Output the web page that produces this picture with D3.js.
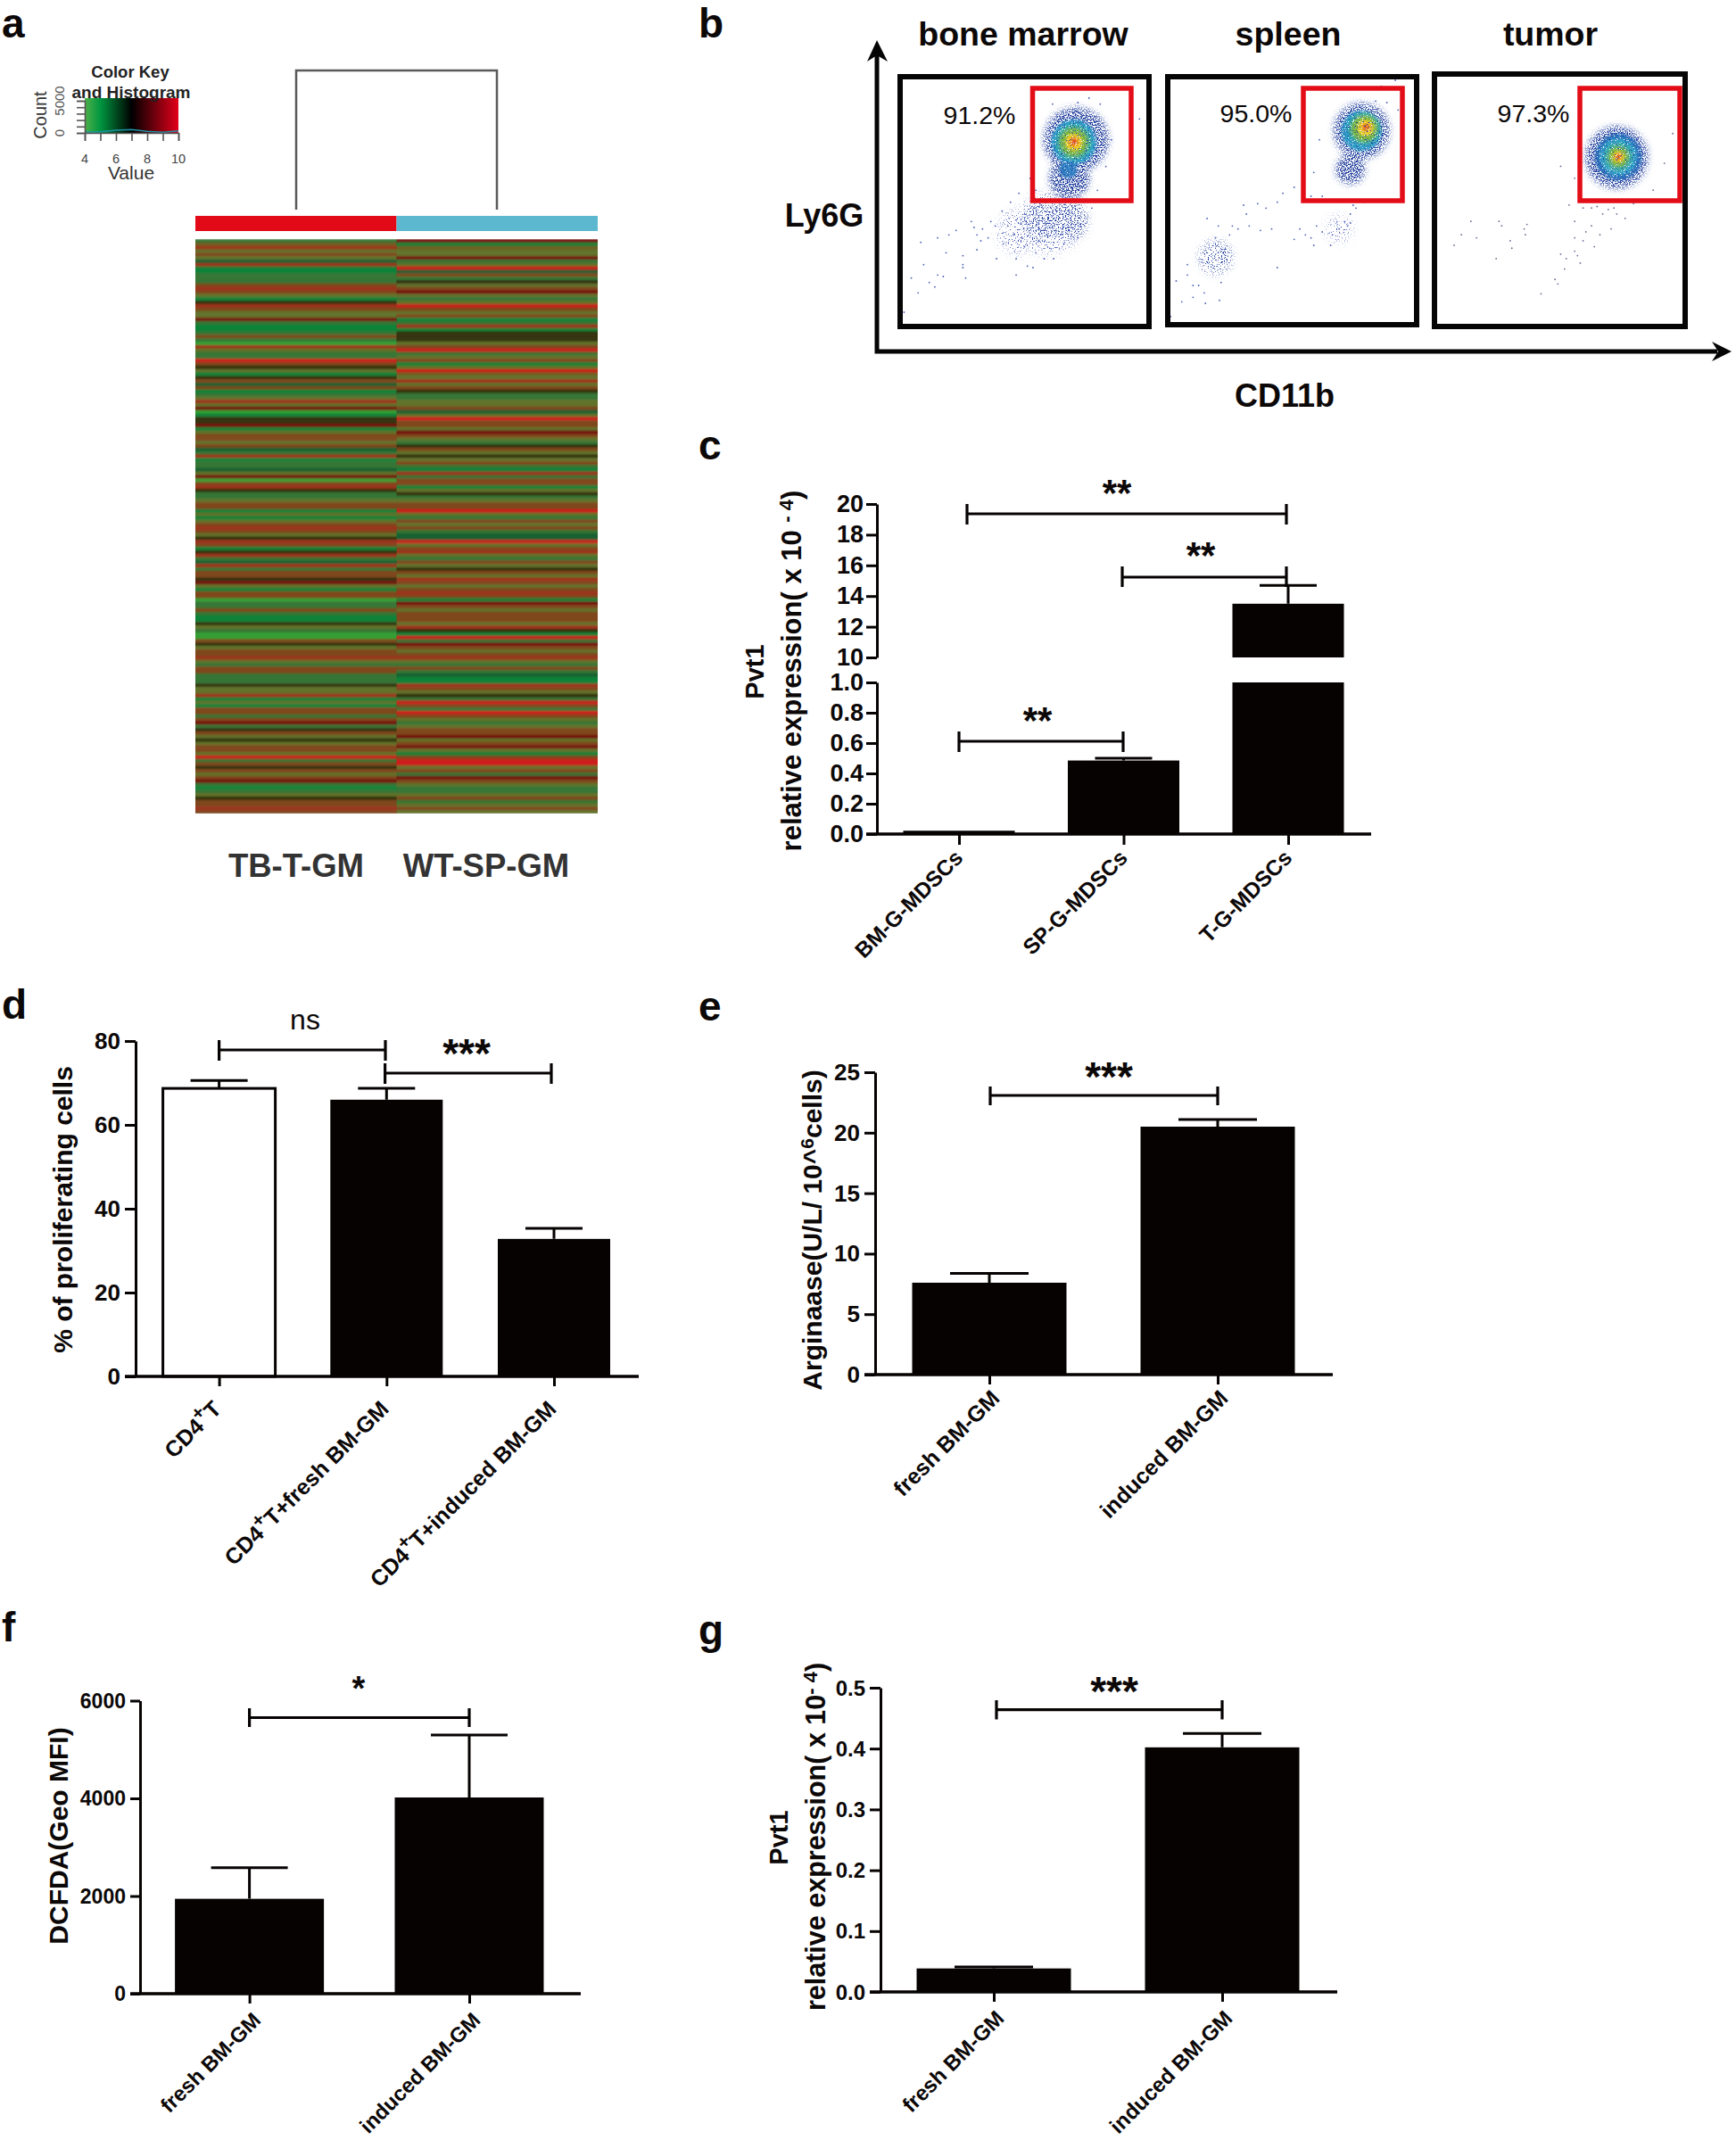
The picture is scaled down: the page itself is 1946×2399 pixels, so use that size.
<!DOCTYPE html>
<html><head><meta charset="utf-8">
<script src="https://cdn.jsdelivr.net/npm/d3@7/dist/d3.min.js"></script>
<style>
html,body{margin:0;padding:0;background:#fff}
svg{display:block}
text{font-family:"Liberation Sans",Arial,sans-serif;fill:#0c0808}
.b{font-weight:bold}
</style></head><body><svg id="fig" width="1946" height="2399" viewBox="0 0 1946 2399"></svg>
<script>
// ---------- panel a data ----------
const heatLeftA=[3,5,7,4,6,4,2,7,1,1,3,3,3,6,7,6,4,1,10,7,6,4,4,9,3,1,1,3,6,3,0,7,4,3,3,8,6,10,4,1,10,6];
const heatLeftB=[2,6,1,3,4,7,4,9,0,1,10,10,9,1,4,6,6,4,6,2,3,7,1,3,3,2,4,9,0,6,7,10,3,3,4,6,6,1,4,1,4,6];
const heatLeftC=[7,6,4,10,7,6,1,10,7,3,2,7,3,6,6,10,9,4,1,6,6,0,3,3,6,3,1,1,10,4,3,0,0,6,10,4,6,6,7,4,3,6];
const heatLeftD=[6,3,3,3,10,4,4,7,1,4,1,6,6,3,6,9,3,10,6,4,10,4,6,6,4,8,3,6,10,6,4,6,9,3,1,3,4,10,6,6,7,6];
const heatRightA=[9,1,5,4,4,9,3,4,8,2,6,3,10,4,6,9,4,3,4,8,6,4,6,1,3,7,1,10,10,10,4,6,8,3,4,6,1,4,8,5,4,7];
const heatRightB=[4,6,10,3,3,4,4,6,2,4,8,6,6,4,9,6,4,3,10,6,4,10,4,6,3,1,7,3,6,6,1,4,10,3,4,6,6,8,4,3,6,4];
const heatRightC=[6,3,2,2,8,4,6,7,4,3,6,4,10,6,4,7,6,4,6,7,6,1,9,6,4,6,6,6,4,7,10,1,8,3,9,6,4,6,7,4,3,6];
const heatRightD=[3,2,1,1,7,6,4,10,3,8,6,3,8,6,4,3,4,6,6,9,4,6,9,4,1,6,8,8,4,6,3,9,6,4,3,3,4,6,3,4,6,4];
const heatPalette=["#35a035","#0f8238","#166030","#367434","#62722a","#6f5e22","#7f461c","#9e331b","#cc1c1a","#740e0e","#33300e"];
const groupNames=["TB-T-GM","WT-SP-GM"];
const groupColors=["#e30a17","#5bb8ce"];
const keyTicks=[4,5,6,7,8,9,10];
const keyCountTicks=[0,1000,2000,3000,4000,5000];
const keyStopVals=[4,5,7,10];
const keyStopCols=["#4fb048","#009640","#000000","#e2001a"];
const keyHistVals=[4,5,6,7,8,9,10];
const keyHistCounts=[150,180,420,520,240,120,300];

// ---------- panel b data (channel units) ----------
const flowTitles=["bone marrow","spleen","tumor"];
const flowPct=["91.2%","95.0%","97.3%"];
const sparse1=[[110,985],[140,965],[120,890],[145,925],[195,935],[190,900],[160,850],[145,800],[190,860],[215,840],[205,745],[240,745],[225,770],[235,800],[250,870],[285,925],[315,900],[260,710],[275,680],[290,650],[335,870],[352,870],[98,935],[115,815],[85,1050],[395,345],[415,330],[435,350],[505,400],[300,830],[320,850],[280,790],[210,765],[222,810],[248,760],[270,760],[295,800],[305,770],[318,700],[330,690],[345,835],[370,820],[395,800],[400,760],[215,790],[178,775],[165,790],[130,950],[155,930],[190,890],[305,895],[285,870],[262,820],[325,810],[340,790],[420,700],[430,640],[445,560],[310,600],[320,640],[455,470],[350,350],[390,375],[300,720],[285,740]];
const sparse2=[[560,1065],[580,1015],[622,1020],[647,1010],[600,960],[570,945],[590,890],[750,900],[625,735],[645,760],[640,800],[690,690],[715,685],[750,680],[780,630],[760,650],[730,700],[695,720],[740,770],[780,805],[815,825],[845,825],[800,790],[830,780],[860,770],[870,745],[880,720],[885,690],[820,760],[790,770],[700,760],[680,770],[665,790],[720,775],[825,470],[815,580],[830,660],[935,290],[960,270],[945,345],[925,340],[965,370],[810,660],[670,760],[880,750],[875,760],[890,700],[905,680],[810,800],[848,790],[600,1000],[620,985],[650,950],[590,925],[610,960]];
const sparse3=[[1065,825],[1078,790],[1095,745],[1145,745],[1150,760],[1105,800],[1165,810],[1168,835],[1140,870],[1190,770],[1195,755],[1192,790],[1255,560],[1280,600],[1270,690],[1295,700],[1320,695],[1350,700],[1330,720],[1355,720],[1370,735],[1280,745],[1310,760],[1345,770],[1300,780],[1325,790],[1280,800],[1295,810],[1315,830],[1280,845],[1255,855],[1265,870],[1285,860],[1290,885],[1262,905],[1245,940],[1250,955],[1220,988],[1440,550],[1455,450],[1420,640],[1385,685],[1310,700],[1340,705]];
// density contours: cx, cy, rx, ry, tilt
const dust1=[[345,750,55,70,0],[290,780,38,50,0]];
const mid1=[[378,740,36,70,0],[325,745,28,40,0]];
const speck1=[[392,470,58,70,28],[380,600,36,95,0]];
const core1=[[388,478,40,50,32,"#2b9fcb"],[378,570,16,60,0,"#2f7fc2"],[388,478,32,38,35,"#3aae9a"],[388,478,25,28,35,"#7ab83c"],[388,478,15,16,35,"#f0d020"],[388,477,9,10,35,"#f08c1c"],[388,477,4,5,35,"#dc2a1c"]];
const dust2=[[860,770,22,40,-30]];
const mid2=[[640,865,30,95,22]];
const speck2=[[900,440,50,72,22],[880,570,26,85,5]];
const core2=[[900,440,36,52,22,"#2d9ec8"],[905,432,29,38,22,"#3aae9a"],[905,432,23,27,22,"#7ab83c"],[907,430,14,16,22,"#f0d020"],[908,428,8,9,22,"#f08c1c"],[908,428,3,4,22,"#dc2a1c"]];
const dust3=[];
const mid3=[];
const speck3=[[1355,530,56,105,0]];
const core3=[[1358,528,42,68,0,"#2b6fbc"],[1358,528,33,52,0,"#2ea2c8"],[1358,528,25,37,0,"#3dae9c"],[1358,528,18,26,0,"#7ab83c"],[1358,528,10,14,0,"#eccc24"],[1358,528,6,7,0,"#f08c1c"],[1358,528,3,3,0,"#dc2a1c"]];

// ---------- panel c data ----------
const cCats=["BM-G-MDSCs","SP-G-MDSCs","T-G-MDSCs"];
const cVals=[0.022,0.485,13.5];
const cErr=[0.022,0.5,14.7];
const cTicksLow=[0,0.2,0.4,0.6,0.8,1.0];
const cTicksHigh=[10,12,14,16,18,20];
// ---------- panel d data ----------
const dCats=[["CD4","T",""],["CD4","T+fresh BM-GM",""],["CD4","T+induced BM-GM",""]];
const dVals=[68.7,66,32.8];
const dErr=[70.6,68.7,35.3];
const dTicks=[0,20,40,60,80];
// ---------- panel e data ----------
const eCats=["fresh BM-GM","induced BM-GM"];
const eVals=[7.6,20.5];
const eErr=[8.37,21.1];
const eTicks=[0,5,10,15,20,25];
// ---------- panel f data ----------
const fCats=["fresh BM-GM","induced BM-GM"];
const fVals=[1943,4018];
const fErr=[2580,5296];
const fTicks=[0,2000,4000,6000];
// ---------- panel g data ----------
const gCats=["fresh BM-GM","induced BM-GM"];
const gVals=[0.0386,0.402];
const gErr=[0.041,0.425];
const gTicks=[0,0.1,0.2,0.3,0.4,0.5];

const svg=d3.select("#fig");
const defs=svg.append("defs");
const INK="#060202";

function txt(g,s,x,y,size,o={}){
  return g.append("text").text(s).attr("x",x).attr("y",y).attr("font-size",size)
   .attr("text-anchor",o.anchor||"middle").attr("dominant-baseline",o.base||"auto")
   .attr("font-weight",o.weight||"bold").attr("font-family",o.family||null)
   .style("fill",o.fill||null);
}
function letter(s,x,y){txt(svg,s,x,y,46,{anchor:"start"});}
[["a",2,42],["b",783,42],["c",783,515],["d",2,1142],["e",783,1144],["f",2,1840],["g",783,1843]].forEach(d=>letter(...d));

// ---------- Panel a ----------
(function(){
 const g=svg.append("g");
 g.append("path").attr("d",d3.line()([[332,235],[332,79],[557,79],[557,235]])).attr("fill","none").attr("stroke","#5a5a5a").attr("stroke-width",2.5);
 const x=d3.scaleBand().domain(groupNames).range([219,670]);
 g.selectAll(".grp").data(groupNames).join("rect").attr("x",d=>x(d)).attr("width",x.bandwidth()).attr("y",242).attr("height",17).attr("fill",(d,i)=>groupColors[i]);
 const cols=[heatLeftA.concat(heatLeftB,heatLeftC,heatLeftD),heatRightA.concat(heatRightB,heatRightC,heatRightD)];
 const color=d3.scaleOrdinal(d3.range(heatPalette.length),heatPalette);
 defs.append("filter").attr("id","vblur").attr("x","0").attr("y","-2%").attr("width","100%").attr("height","104%")
   .append("feGaussianBlur").attr("stdDeviation","0 0.9");
 defs.append("clipPath").attr("id","hclip").append("rect").attr("x",219).attr("y",268).attr("width",451).attr("height",644);
 const hg=g.append("g").attr("clip-path","url(#hclip)").append("g").attr("filter","url(#vblur)");
 cols.forEach((col,ci)=>{
  const y=d3.scaleBand().domain(d3.range(col.length)).range([268,912]);
  hg.selectAll(".r"+ci).data(col).join("rect").attr("x",x(groupNames[ci])).attr("width",x.bandwidth()+(ci==0?0.6:0))
   .attr("y",(d,i)=>y(i)).attr("height",y.bandwidth()+0.5).attr("fill",d=>color(d));
 });
 groupNames.forEach((n,i)=>txt(g,n,[332,545][i],983,36.5,{fill:"#333"}));
 const kx=d3.scaleLinear().domain([4,10]).range([95,200]);
 const ky=d3.scaleLinear().domain([0,5000]).range([149,113]);
 const grad=defs.append("linearGradient").attr("id","keyGrad");
 keyStopVals.forEach((v,i)=>grad.append("stop").attr("offset",(v-4)/6).attr("stop-color",keyStopCols[i]));
 g.append("rect").attr("x",kx(4)).attr("y",110).attr("width",kx(10)-kx(4)).attr("height",39).attr("fill","url(#keyGrad)");
 g.append("path").datum(keyHistVals).attr("d",d3.line().x(d=>kx(d)).y((d,i)=>ky(keyHistCounts[i]))).attr("fill","none").attr("stroke","#1f93a8").attr("stroke-width",1.5);
 const ax=g.append("g").attr("transform","translate(0,149)").call(d3.axisBottom(kx).tickValues(keyTicks).tickSize(9).tickFormat(""));
 ax.selectAll("line,path").attr("stroke","#555").attr("stroke-width",1.6);
 const ay=g.append("g").attr("transform","translate(95,0)").call(d3.axisLeft(ky).tickValues(keyCountTicks).tickSize(9).tickFormat(""));
 ay.selectAll("line,path").attr("stroke","#555").attr("stroke-width",1.6);
 [4,6,8,10].forEach(v=>txt(g,v,kx(v),183,14.5,{weight:"normal",fill:"#444"}));
 txt(g,"Color Key",146,87,18.5,{fill:"#222"});
 txt(g,"and Histogram",147,110,19,{fill:"#222"});
 txt(g,"Value",147,201,21,{weight:"normal",fill:"#333"});
 const rot=(s,x,y,size,fill)=>g.append("text").text(s).attr("transform",`translate(${x},${y}) rotate(-90)`).attr("text-anchor","middle").attr("font-size",size).style("fill",fill);
 rot("Count",52,129,20,"#333");
 rot("0",72,149,15,"#555");
 rot("5000",72,113,15,"#555");
})();

// ---------- Panel b ----------
(function(){
 const g=svg.append("g");
 // noise alpha mask makes density regions read as dots
 function speckle(id,blur,freq,slope,icpt){
  const f=defs.append("filter").attr("id",id).attr("x","-30%").attr("y","-30%").attr("width","160%").attr("height","160%");
  f.append("feGaussianBlur").attr("in","SourceGraphic").attr("stdDeviation",blur).attr("result","soft");
  f.append("feTurbulence").attr("type","fractalNoise").attr("baseFrequency",freq).attr("numOctaves",1).attr("seed",7).attr("result","n");
  f.append("feColorMatrix").attr("in","n").attr("type","matrix").attr("values",`0 0 0 0 0  0 0 0 0 0  0 0 0 0 0  ${slope} 0 0 0 ${icpt}`).attr("result","mask");
  f.append("feComposite").attr("in","soft").attr("in2","mask").attr("operator","in");
 }
 speckle("dust",6,0.7,14,-8.3);
 speckle("mid",4.5,0.72,13,-7.2);
 speckle("speck",3.5,0.75,12,-5.6);
 speckle("corespeck",1.8,0.8,10,-3.4);

 const boxes=[
  {x:[1009,1288],y:[366,86],dx:[78,522],dy:[1098,258],gate:[1157.5,99,110.5,126],sparse:sparse1,dust:dust1,mid:mid1,speck:speck1,core:core1,dot:"#4a5fb4",t:1147,p:[1098,139]},
  {x:[1309,1588],y:[364,86],dx:[555,998],dy:[1092,258],gate:[1461,99,111,126],sparse:sparse2,dust:dust2,mid:mid2,speck:speck2,core:core2,dot:"#4a5fb4",t:1444,p:[1408,137]},
  {x:[1608,1889],y:[366,83],dx:[1030,1477],dy:[1098,250],gate:[1771,99,112,126],sparse:sparse3,dust:dust3,mid:mid3,speck:speck3,core:core3,dot:"#6f6590",t:1738,p:[1719,137]}
 ];
 boxes.forEach((b,i)=>{
  const X=d3.scaleLinear().domain(b.dx).range(b.x), Y=d3.scaleLinear().domain(b.dy).range(b.y);
  const ell=(sel,data,fill)=>sel.selectAll("ellipse").data(data).join("ellipse")
     .attr("rx",d=>X(d[0]+d[2])-X(d[0])).attr("ry",d=>Y(d[1]-d[3])-Y(d[1]))
     .attr("transform",d=>`translate(${X(d[0])},${Y(d[1])}) rotate(${d[4]})`).attr("fill",fill||(d=>d[5]));
  ell(g.append("g").attr("filter","url(#dust)"),b.dust,"#3a50b0");
  ell(g.append("g").attr("filter","url(#mid)"),b.mid,"#22409f");
  ell(g.append("g").attr("filter","url(#speck)"),b.speck,"#1c3a9c");
  ell(g.append("g").attr("filter","url(#corespeck)"),b.core);
  g.append("g").selectAll("circle").data(b.sparse).join("circle").attr("cx",d=>X(d[0])).attr("cy",d=>Y(d[1])).attr("r",0.9).attr("fill",b.dot);
  g.append("rect").attr("x",b.x[0]).attr("y",b.y[1]).attr("width",b.x[1]-b.x[0]).attr("height",b.y[0]-b.y[1]).attr("fill","none").attr("stroke","#050505").attr("stroke-width",6);
  g.append("rect").attr("x",b.gate[0]).attr("y",b.gate[1]).attr("width",b.gate[2]).attr("height",b.gate[3]).attr("fill","none").attr("stroke","#e30d18").attr("stroke-width",5.5);
  txt(g,flowTitles[i],b.t,51,37.5);
  txt(g,flowPct[i],b.p[0],b.p[1],28.5,{weight:"normal",family:"Liberation Serif"});
 });
 const line=d3.line();
 g.append("path").attr("d",line([[983,62],[983,394],[1925,394]])).attr("fill","none").attr("stroke","#050505").attr("stroke-width",5);
 g.append("path").attr("d",line([[983,45],[995,69],[983,62],[972,69]])+"Z").attr("fill","#050505");
 g.append("path").attr("d",line([[1941,394],[1919,405],[1926,394],[1919,383]])+"Z").attr("fill","#050505");
 txt(g,"Ly6G",924,254,36);
 txt(g,"CD11b",1440,456,36);
})();

// ---------- shared bar helpers ----------
function styleAxis(a){a.selectAll("path,line").attr("stroke",INK).attr("stroke-width",3).attr("stroke-linecap","butt");a.selectAll("text").remove();}
function bracket(g,x0,x1,y,h0,h1){
 g.append("path").attr("d",`M${x0},${h0}V${h1}M${x0},${y}H${x1}M${x1},${h0}V${h1}`).attr("fill","none").attr("stroke",INK).attr("stroke-width",3.2);
}
function stars(g,s,x,y,size){
 // asterisks sit high in the em box; y is the visual centre
 txt(g,s,x,y+size*0.5,size);
}
function errBar(g,x,y0,y1,cap){
 g.append("path").attr("d",`M${x},${y0}V${y1}M${x-cap},${y1}H${x+cap}`).attr("fill","none").attr("stroke",INK).attr("stroke-width",3);
}
function tickLabels(g,ticks,scale,x,size,fmt){
 ticks.forEach(t=>txt(g,fmt?fmt(t):t,x,scale(t),size,{anchor:"end",base:"central"}));
}
function xLabel(g,parts,px,py,size){
 const t=g.append("text").attr("transform",`translate(${px},${py}) rotate(-45)`).attr("text-anchor","end").attr("font-size",size).attr("font-weight","bold");
 if(typeof parts==="string"){t.text(parts);return;}
 t.append("tspan").text(parts[0]);
 t.append("tspan").text("+").attr("dy",-size*0.42).attr("font-size",size*0.85);
 t.append("tspan").text(parts[1]).attr("dy",size*0.42);
}
function yTitle(g,x,y,size,build){
 const t=g.append("text").attr("transform",`translate(${x},${y}) rotate(-90)`).attr("text-anchor","middle").attr("font-size",size).attr("font-weight","bold");
 build(t);
}
function simplePanel(o){
 const g=svg.append("g");
 const y=d3.scaleLinear().domain(o.domain).range([o.y0,o.y1]);
 const x=d3.scalePoint().domain(o.cats.map((d,i)=>i)).range(o.xr);
 const ax=g.append("g").attr("transform",`translate(${o.ax},0)`).call(d3.axisLeft(y).tickValues(o.ticks).tickSize(o.ax-o.tl).tickFormat("").tickSizeOuter(0));
 styleAxis(ax);
 g.selectAll(".bar").data(o.vals).join("rect").attr("x",(d,i)=>x(i)-o.bw/2).attr("width",o.bw)
   .attr("y",d=>y(d)).attr("height",d=>y(0)-y(d)).attr("fill",(d,i)=>o.hollow&&o.hollow[i]?"#fff":INK).attr("stroke",INK).attr("stroke-width",(d,i)=>o.hollow&&o.hollow[i]?3:0);
 o.vals.forEach((v,i)=>errBar(g,x(i),y(v),y(o.err[i]),o.cap));
 const bx=d3.axisBottom(x).tickSize(o.tickDown).tickFormat("").tickSizeOuter(0);
 const xa=g.append("g").attr("transform",`translate(0,${o.y0})`).call(bx);
 styleAxis(xa);xa.select("path").remove();
 g.append("path").attr("d",`M${o.tl},${o.y0}H${o.xEnd}`).attr("stroke",INK).attr("stroke-width",3.5);
 tickLabels(g,o.ticks,y,o.tl-5,o.tickFont,o.fmt);
 o.cats.forEach((c,i)=>xLabel(g,c,x(i)+o.lx,o.y0+o.ly,o.labFont));
 return {g,x,y};
}

// ---------- Panel c (broken axis) ----------
(function(){
 const g=svg.append("g");
 const yl=d3.scaleLinear().domain([0,1]).range([935,765]);
 const yh=d3.scaleLinear().domain([10,20]).range([737,565]);
 const x=d3.scalePoint().domain(d3.range(cCats.length)).range([1075,1444]);
 const a1=g.append("g").attr("transform","translate(983,0)").call(d3.axisLeft(yl).tickValues(cTicksLow).tickSize(12).tickFormat("").tickSizeOuter(0));
 const a2=g.append("g").attr("transform","translate(983,0)").call(d3.axisLeft(yh).tickValues(cTicksHigh).tickSize(12).tickFormat("").tickSizeOuter(0));
 styleAxis(a1);styleAxis(a2);
 const bw=125;
 cVals.forEach((v,i)=>{
  if(v<=1){g.append("rect").attr("x",x(i)-bw/2).attr("width",bw).attr("y",yl(v)).attr("height",yl(0)-yl(v)).attr("fill",INK);}
  else{
   g.append("rect").attr("x",x(i)-bw/2).attr("width",bw).attr("y",yl(1)).attr("height",yl(0)-yl(1)).attr("fill",INK);
   g.append("rect").attr("x",x(i)-bw/2).attr("width",bw).attr("y",yh(v)).attr("height",yh(10)-yh(v)).attr("fill",INK);
  }
  const sc=v<=1?yl:yh;
  if(cErr[i]>v) errBar(g,x(i),sc(v),sc(cErr[i]),32);
 });
 const xa=g.append("g").attr("transform","translate(0,935)").call(d3.axisBottom(x).tickSize(12).tickFormat("").tickSizeOuter(0));
 styleAxis(xa);xa.select("path").remove();
 g.append("path").attr("d","M971,935H1537").attr("stroke",INK).attr("stroke-width",3.5);
 tickLabels(g,cTicksLow,yl,968,27,d=>d.toFixed(1));
 tickLabels(g,cTicksHigh,yh,968,27);
 cCats.forEach((c,i)=>xLabel(g,c,x(i)+6,963,24.5));
 bracket(g,1084,1442,576,565,588);stars(g,"**",1252,546,42);
 bracket(g,1258,1442,647,635,658);stars(g,"**",1346,616,42);
 bracket(g,1075,1259,831,820,843);stars(g,"**",1163,801,42);
 yTitle(g,856,753,29,t=>t.text("Pvt1"));
 yTitle(g,898,752,31,t=>{t.append("tspan").text("relative expression( x 10 ");t.append("tspan").text("- 4").attr("dy",-9).attr("font-size",22);t.append("tspan").text(")").attr("dy",9);});
})();

// ---------- Panel d ----------
(function(){
 const p=simplePanel({cats:dCats,vals:dVals,err:dErr,domain:[0,80],ticks:dTicks,y0:1543,y1:1167,xr:[245.6,621],ax:152,tl:140,bw:126,cap:32,tickDown:11,xEnd:716,tickFont:26,labFont:25,lx:4,ly:38,hollow:[true,false,false]});
 bracket(p.g,245.6,432,1177,1166,1189);
 txt(p.g,"ns",342,1154,32,{weight:"normal"});
 bracket(p.g,431.6,618,1203,1192,1215);stars(p.g,"***",523,1174,46);
 yTitle(p.g,81,1356,30,t=>t.text("% of proliferating cells"));
})();

// ---------- Panel e ----------
(function(){
 const p=simplePanel({cats:eCats,vals:eVals,err:eErr,domain:[0,25],ticks:eTicks,y0:1541,y1:1202,xr:[1109,1365],ax:981,tl:969,bw:173,cap:44,tickDown:11,xEnd:1494,tickFont:26,labFont:25,lx:13,ly:28});
 bracket(p.g,1110,1365,1228,1218,1239);stars(p.g,"***",1243,1200,46);
 yTitle(p.g,921,1379,30,t=>{t.append("tspan").text("Arginaase(U/L/  10^");t.append("tspan").text("6").attr("dy",-9).attr("font-size",21);t.append("tspan").text("cells)").attr("dy",9);});
})();

// ---------- Panel f ----------
(function(){
 const p=simplePanel({cats:fCats,vals:fVals,err:fErr,domain:[0,6000],ticks:fTicks,y0:2235,y1:1906.5,xr:[279.6,526],ax:157,tl:146,bw:167,cap:43,tickDown:11,xEnd:651,tickFont:23,labFont:23.6,lx:14,ly:31});
 bracket(p.g,279.6,526,1925.5,1915,1936);stars(p.g,"*",402,1887,38);
 yTitle(p.g,76,2058,30,t=>t.text("DCFDA(Geo MFI)"));
})();

// ---------- Panel g ----------
(function(){
 const p=simplePanel({cats:gCats,vals:gVals,err:gErr,domain:[0,0.5],ticks:gTicks,y0:2233,y1:1892,xr:[1114,1370],ax:987,tl:975,bw:173,cap:44,tickDown:11,xEnd:1499,tickFont:24,labFont:24,lx:13,ly:31,fmt:d=>d.toFixed(1)});
 bracket(p.g,1117,1370,1916.6,1906,1927.5);stars(p.g,"***",1249,1889,46);
 yTitle(p.g,883,2060,29,t=>t.text("Pvt1"));
 yTitle(p.g,925,2059,30.5,t=>{t.append("tspan").text("relative expression( x 10");t.append("tspan").text("- 4").attr("dy",-9).attr("font-size",22);t.append("tspan").text(")").attr("dy",9);});
})();
</script></body></html>
